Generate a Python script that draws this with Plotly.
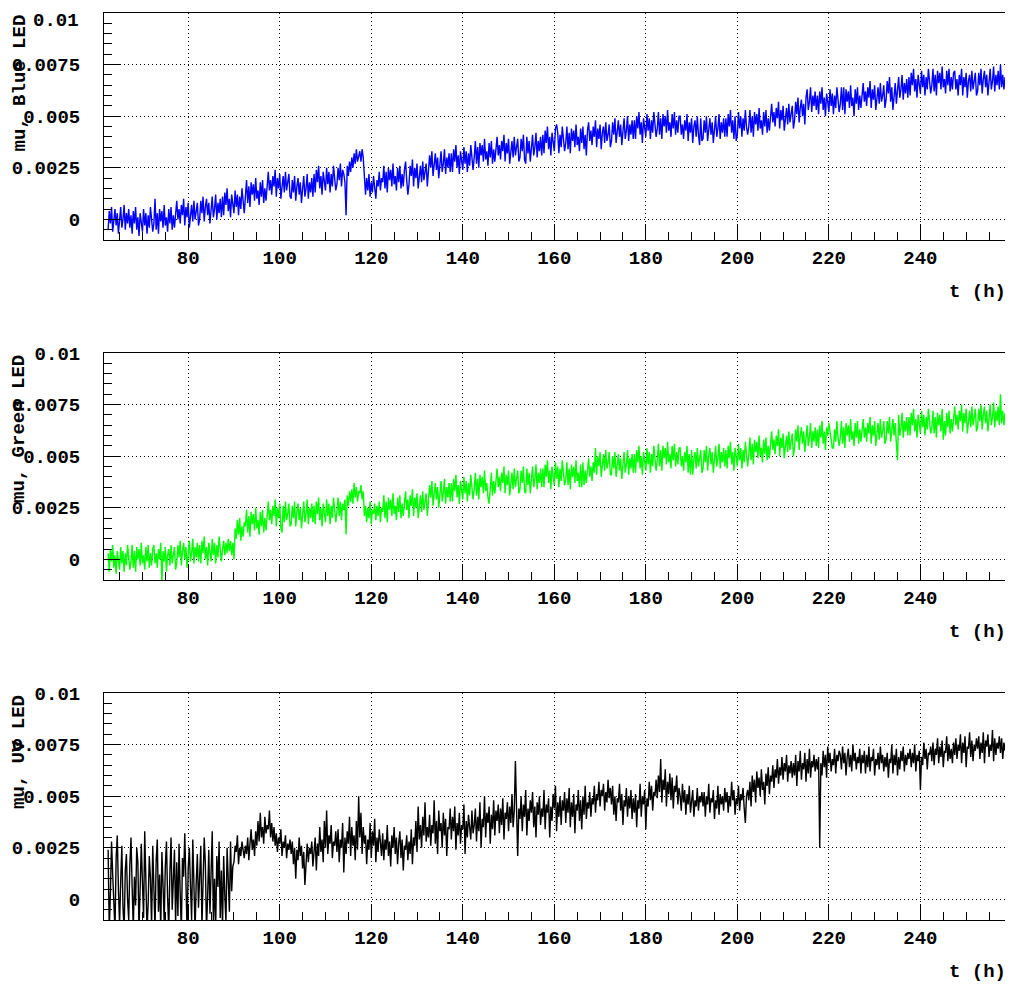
import numpy as np
import plotly.graph_objects as go

# readings every quarter hour starting at t = 62.5 h
t_start = 62.5
t_step = 0.25

# mu, in units of 1e-4 (20 readings = 5 h per row)
mu_blue = [
    -5, 4, -2, 6, -6, 1, 5, -3, 3, -7, 2, 6, -4, 0, 7, -5, 3, -2, 5, -4,
    2, -7, 4, -2, 6, -5, 1, -8, 3, -1, -6, 5, -3, 3, -7, 2, -4, 6, -2, -6,
    -2, 10, -5, 3, -7, 5, -1, 4, -4, 7, -3, 1, -6, 5, -2, 6, -5, 2, -4, 4,
    9, 0, 5, -2, 7, 2, 10, -3, 6, 1, 8, -4, 4, 7, -1, 9, 0, 3, 8, -3,
    0, 9, 3, 11, -1, 6, 10, 2, 8, -2, 7, 11, 1, 5, 12, 0, 8, 3, 10, 1,
    11, 2, 13, 7, 15, 4, 10, 1, 12, 8, 3, 14, 6, 12, 2, 11, 5, 15, 7, 3,
    11, 19, 8, 16, 6, 18, 12, 17, 9, 20, 10, 14, 7, 18, 11, 19, 8, 15, 9, 17,
    23, 14, 19, 12, 21, 16, 24, 11, 20, 15, 22, 10, 18, 21, 13, 23, 14, 17, 22, 11,
    10, 19, 13, 21, 9, 16, 20, 12, 18, 8, 17, 21, 11, 15, 22, 10, 18, 13, 20, 11,
    22, 13, 24, 18, 26, 15, 21, 12, 23, 19, 14, 25, 17, 23, 13, 22, 16, 26, 18, 14,
    17, 25, 19, 27, 16, 24, 22, 18, 2, 26, 21, 28, 23, 30, 25, 32, 27, 34, 28, 31,
    33, 28, 34, 30, 19, 12, 20, 14, 22, 11, 18, 13, 21, 15, 10, 19, 16, 23, 14, 20,
    18, 26, 15, 23, 13, 25, 19, 24, 16, 27, 17, 21, 14, 25, 18, 26, 15, 22, 16, 24,
    28, 19, 12, 17, 26, 21, 29, 16, 25, 20, 27, 15, 23, 26, 18, 28, 19, 22, 27, 16,
    22, 31, 25, 33, 21, 28, 32, 24, 30, 20, 29, 33, 23, 27, 34, 22, 30, 25, 32, 23,
    32, 23, 34, 28, 36, 25, 31, 22, 33, 29, 24, 35, 27, 33, 23, 32, 26, 36, 28, 24,
    30, 38, 27, 35, 25, 37, 31, 36, 28, 39, 29, 33, 26, 37, 30, 38, 27, 34, 28, 36,
    40, 31, 36, 29, 38, 33, 41, 28, 37, 32, 39, 27, 35, 38, 30, 40, 31, 34, 39, 28,
    30, 39, 33, 41, 29, 27, 40, 32, 38, 28, 37, 41, 31, 35, 42, 30, 38, 33, 40, 31,
    41, 32, 43, 37, 45, 34, 40, 31, 42, 38, 33, 44, 46, 42, 32, 41, 35, 45, 37, 33,
    37, 45, 34, 42, 32, 44, 38, 43, 35, 46, 36, 40, 33, 44, 37, 45, 34, 41, 31, 43,
    47, 38, 43, 36, 45, 40, 48, 35, 44, 39, 46, 34, 42, 45, 37, 47, 38, 41, 46, 35,
    38, 47, 41, 49, 37, 44, 48, 40, 46, 36, 45, 49, 39, 43, 50, 38, 46, 41, 48, 39,
    48, 39, 50, 44, 52, 41, 47, 37, 49, 45, 40, 51, 43, 49, 39, 48, 42, 52, 44, 40,
    44, 52, 41, 49, 39, 51, 45, 50, 42, 53, 43, 47, 40, 51, 44, 52, 41, 48, 42, 50,
    50, 41, 46, 39, 48, 43, 51, 38, 47, 42, 49, 37, 45, 48, 40, 50, 41, 36, 49, 38,
    39, 48, 42, 50, 38, 45, 49, 41, 47, 37, 46, 50, 40, 44, 51, 39, 47, 42, 49, 40,
    49, 40, 51, 45, 53, 42, 48, 39, 50, 38, 41, 52, 44, 50, 40, 49, 43, 53, 45, 41,
    45, 53, 42, 50, 40, 52, 46, 51, 43, 54, 44, 48, 41, 52, 45, 53, 42, 49, 43, 51,
    56, 47, 52, 45, 54, 49, 57, 44, 53, 48, 55, 43, 51, 54, 46, 56, 47, 50, 55, 44,
    48, 57, 51, 59, 47, 54, 58, 50, 56, 46, 59, 63, 53, 57, 64, 52, 60, 55, 62, 53,
    60, 51, 62, 56, 64, 53, 59, 50, 61, 57, 52, 63, 55, 61, 51, 60, 54, 64, 56, 52,
    56, 64, 53, 64, 51, 63, 57, 62, 54, 65, 55, 59, 50, 63, 56, 64, 53, 60, 54, 62,
    66, 57, 62, 55, 64, 59, 67, 54, 63, 58, 65, 53, 61, 64, 56, 66, 57, 60, 65, 54,
    58, 67, 61, 69, 57, 64, 53, 60, 66, 56, 65, 69, 59, 63, 70, 58, 66, 61, 68, 59,
    69, 60, 71, 65, 73, 62, 68, 59, 70, 66, 61, 72, 64, 70, 60, 69, 63, 73, 65, 61,
    65, 73, 62, 70, 60, 72, 66, 71, 63, 74, 64, 68, 61, 72, 65, 73, 62, 69, 63, 71,
    72, 63, 68, 60, 70, 65, 73, 60, 69, 64, 71, 59, 67, 70, 62, 72, 63, 66, 71, 60,
    62, 71, 65, 73, 61, 68, 72, 64, 70, 60, 69, 73, 63, 67, 74, 62, 70, 65, 72, 63,
    75, 64, 70, 63, 69, 66,
]

mu_green = [
    3, -6, 5, -1, 7, -4, 2, -7, 4, 0, -5, 6, -2, 4, -6, 3, -3, 7, -1, -5,
    -1, 7, -4, 4, -6, 6, 0, 5, -3, 8, -2, 2, -5, 6, -1, 7, -4, 3, -3, 5,
    7, -2, 3, -4, 5, 0, 8, -11, 4, -1, 6, -6, 2, 5, -3, 7, -2, 1, 6, -5,
    -2, 7, 1, 9, -3, 4, 8, 0, 6, -4, 5, 9, -1, 3, 10, -2, 6, 1, 8, -1,
    7, -2, 9, 3, 11, 0, 6, -3, 8, 4, -1, 10, 2, 8, -2, 7, 1, 11, 3, -1,
    5, 9, 2, 8, 3, 10, 4, 9, 2, 8, 0, 15, 10, 19, 12, 20, 9, 16, 11, 18,
    16, 24, 13, 21, 11, 23, 17, 22, 14, 25, 15, 19, 12, 23, 16, 24, 13, 20, 14, 22,
    28, 19, 24, 17, 26, 21, 29, 16, 25, 20, 27, 15, 13, 26, 18, 28, 19, 22, 27, 16,
    17, 26, 20, 28, 16, 23, 27, 19, 25, 15, 24, 28, 18, 22, 29, 17, 25, 20, 27, 18,
    26, 17, 28, 22, 30, 19, 25, 16, 27, 23, 18, 29, 21, 27, 17, 26, 20, 30, 22, 18,
    23, 30, 21, 28, 19, 27, 24, 29, 12, 31, 26, 33, 28, 34, 27, 37, 30, 35, 28, 33,
    32, 36, 29, 33, 21, 26, 18, 25, 20, 28, 17, 24, 22, 27, 19, 26, 21, 28, 18, 25,
    23, 31, 20, 28, 18, 30, 24, 29, 21, 32, 22, 26, 19, 30, 23, 31, 20, 27, 21, 29,
    33, 24, 29, 20, 31, 26, 34, 21, 30, 25, 32, 20, 28, 31, 23, 33, 24, 27, 32, 21,
    27, 36, 30, 38, 26, 33, 37, 29, 35, 25, 34, 38, 28, 32, 39, 27, 35, 30, 37, 28,
    37, 28, 39, 33, 41, 30, 36, 27, 38, 34, 29, 40, 32, 38, 28, 37, 31, 41, 33, 29,
    34, 42, 31, 39, 29, 41, 35, 40, 32, 43, 33, 37, 30, 27, 34, 42, 31, 38, 32, 40,
    44, 35, 40, 33, 42, 37, 45, 32, 41, 36, 43, 31, 39, 42, 34, 44, 35, 38, 43, 32,
    34, 43, 37, 45, 33, 32, 44, 36, 42, 32, 41, 45, 35, 39, 46, 34, 42, 37, 44, 35,
    44, 35, 46, 40, 48, 37, 43, 34, 45, 41, 36, 47, 39, 45, 35, 44, 38, 48, 40, 36,
    39, 47, 36, 44, 34, 46, 40, 45, 37, 48, 38, 42, 35, 46, 35, 47, 36, 43, 37, 45,
    49, 40, 45, 38, 47, 42, 54, 41, 50, 45, 52, 40, 48, 51, 43, 53, 44, 47, 52, 41,
    41, 50, 44, 52, 40, 47, 51, 43, 49, 39, 48, 52, 42, 46, 53, 41, 49, 44, 51, 42,
    51, 42, 53, 47, 55, 44, 50, 41, 52, 48, 43, 54, 46, 52, 42, 51, 45, 55, 47, 43,
    48, 56, 45, 53, 43, 55, 49, 54, 46, 57, 47, 51, 44, 55, 48, 56, 45, 52, 46, 54,
    54, 45, 50, 43, 52, 47, 55, 42, 51, 41, 53, 41, 49, 52, 44, 54, 45, 48, 53, 42,
    44, 53, 47, 55, 43, 50, 54, 46, 52, 42, 51, 55, 45, 49, 56, 44, 52, 47, 54, 45,
    53, 44, 55, 49, 57, 46, 52, 43, 54, 50, 45, 56, 48, 54, 44, 53, 47, 57, 49, 45,
    51, 59, 48, 56, 46, 58, 52, 57, 49, 60, 50, 54, 47, 58, 51, 59, 48, 55, 49, 57,
    62, 53, 58, 51, 60, 55, 63, 50, 59, 54, 61, 49, 57, 60, 52, 62, 53, 56, 61, 50,
    54, 63, 57, 65, 53, 60, 64, 56, 62, 52, 61, 65, 55, 59, 66, 54, 62, 57, 64, 55,
    63, 54, 65, 59, 67, 56, 62, 53, 64, 60, 66, 61, 58, 54, 54, 63, 57, 67, 59, 55,
    59, 67, 56, 64, 54, 66, 60, 65, 57, 68, 58, 62, 55, 66, 59, 67, 56, 63, 57, 65,
    68, 59, 64, 57, 66, 61, 69, 56, 65, 60, 67, 55, 63, 66, 58, 68, 59, 62, 67, 56,
    58, 67, 61, 69, 57, 64, 68, 60, 66, 56, 48, 70, 60, 64, 71, 59, 67, 62, 69, 60,
    69, 60, 71, 65, 73, 62, 68, 59, 70, 66, 61, 72, 64, 70, 60, 69, 63, 73, 65, 61,
    64, 72, 61, 69, 59, 71, 65, 70, 62, 73, 58, 67, 60, 71, 64, 72, 61, 68, 62, 70,
    74, 65, 70, 63, 72, 67, 75, 62, 71, 66, 73, 61, 69, 72, 64, 74, 65, 68, 73, 62,
    64, 73, 67, 75, 63, 70, 74, 66, 72, 62, 71, 75, 65, 69, 76, 64, 72, 67, 74, 65,
    80, 66, 72, 65, 71, 68,
]

mu_uv = [
    24, -15, 3, 28, 12, -8, -15, 20, 31, 5, -12, 9, 26, -4, -15, 14, 22, 0, -10, 17,
    30, 6, -14, 11, -3, 25, 18, -15, 2, 27, 8, -9, 33, 15, -15, -2, 21, 10, -13, 26,
    4, -15, 19, 29, -6, 12, -15, 23, 7, -11, 16, 28, 1, -15, 13, 30, -5, 9, 24, -12,
    18, -8, 27, 3, -15, 20, 11, 32, -2, -15, 15, 25, 6, -10, 29, 13, -15, 8, 22, -4,
    12, 26, -13, 5, 30, 17, -15, 2, 24, -7, 19, 33, -11, 10, -15, 21, 6, 28, -9, 14,
    -14, 21, 2, -11, 25, 8, -6, 28, 4, 16, 18, 26, 23, 31, 17, 25, 21, 28, 24, 20,
    26, 22, 30, 19, 27, 34, 24, 29, 21, 33, 26, 38, 28, 42, 30, 35, 27, 40, 32, 36,
    34, 43, 30, 37, 28, 35, 26, 32, 23, 30, 27, 34, 21, 28, 25, 31, 20, 27, 24, 29,
    22, 28, 17, 25, 10, 24, 19, 30, 21, 26, 15, 23, 7, 20, 27, 18, 25, 22, 28, 16,
    24, 30, 14, 27, 21, 35, 23, 29, 18, 38, 25, 43, 22, 31, 27, 36, 20, 28, 26, 33,
    23, 34, 18, 29, 25, 37, 13, 30, 22, 33, 27, 40, 21, 35, 26, 31, 19, 38, 24, 50,
    30, 42, 22, 35, 27, 31, 17, 29, 24, 37, 20, 33, 26, 39, 18, 30, 23, 34, 28, 21,
    32, 19, 29, 24, 36, 21, 28, 16, 31, 25, 35, 22, 30, 17, 27, 33, 20, 29, 14, 26,
    24, 31, 19, 28, 22, 34, 17, 30, 26, 38, 23, 45, 29, 36, 25, 40, 31, 47, 28, 35,
    30, 41, 26, 36, 32, 48, 27, 38, 22, 43, 33, 37, 25, 42, 31, 39, 21, 35, 34, 44,
    29, 40, 33, 45, 24, 37, 31, 42, 27, 36, 34, 46, 22, 38, 30, 41, 35, 29, 43, 32,
    36, 44, 28, 40, 33, 47, 25, 39, 35, 50, 30, 42, 37, 45, 27, 41, 34, 48, 31, 43,
    38, 46, 32, 44, 36, 49, 29, 42, 39, 47, 33, 45, 37, 51, 35, 43, 67, 40, 21, 44,
    39, 50, 33, 46, 40, 53, 31, 44, 38, 48, 42, 52, 35, 45, 30, 47, 41, 50, 36, 44,
    40, 53, 34, 46, 42, 49, 30, 45, 38, 51, 44, 55, 33, 47, 40, 50, 36, 48, 43, 52,
    37, 49, 42, 54, 35, 47, 40, 51, 32, 46, 43, 53, 38, 48, 34, 50, 41, 55, 39, 47,
    44, 52, 40, 49, 46, 55, 42, 51, 48, 57, 45, 53, 50, 56, 43, 52, 47, 58, 49, 54,
    46, 55, 41, 50, 38, 49, 47, 56, 43, 51, 36, 48, 45, 54, 40, 50, 44, 53, 39, 49,
    42, 51, 35, 48, 44, 56, 40, 50, 46, 53, 34, 49, 45, 57, 48, 55, 43, 52, 50, 58,
    49, 60, 52, 68, 47, 58, 53, 63, 45, 57, 51, 61, 48, 59, 44, 55, 52, 60, 46, 54,
    50, 43, 56, 47, 53, 41, 51, 46, 55, 42, 49, 53, 40, 48, 45, 54, 43, 50, 47, 52,
    45, 52, 40, 50, 46, 56, 42, 49, 47, 53, 39, 48, 44, 55, 41, 51, 46, 50, 43, 54,
    47, 52, 42, 50, 45, 57, 48, 53, 41, 49, 46, 55, 43, 51, 48, 54, 44, 37, 50, 53,
    48, 57, 45, 60, 52, 58, 47, 62, 54, 59, 50, 63, 53, 57, 46, 61, 55, 64, 51, 60,
    57, 65, 54, 63, 59, 68, 56, 64, 60, 69, 58, 66, 62, 70, 57, 65, 61, 67, 59, 66,
    60, 70, 55, 67, 62, 72, 58, 66, 63, 71, 57, 68, 61, 73, 59, 67, 64, 70, 62, 68,
    63, 69, 25, 66, 60, 72, 64, 70, 59, 74, 66, 71, 62, 68, 65, 73, 61, 70, 67, 72,
    70, 63, 74, 66, 71, 60, 69, 73, 64, 70, 62, 75, 67, 71, 63, 69, 66, 73, 61, 70,
    66, 72, 61, 70, 64, 74, 62, 69, 67, 73, 60, 68, 65, 71, 63, 74, 66, 70, 62, 69,
    64, 71, 59, 68, 66, 75, 61, 70, 65, 73, 60, 69, 63, 72, 67, 74, 62, 70, 65, 71,
    68, 73, 64, 71, 66, 75, 62, 70, 67, 72, 53, 69, 65, 76, 68, 73, 63, 71, 70, 74,
    67, 76, 65, 73, 70, 78, 66, 74, 69, 77, 64, 72, 71, 79, 67, 75, 68, 73, 66, 76,
    70, 78, 68, 75, 72, 80, 66, 76, 71, 79, 64, 74, 73, 81, 69, 77, 67, 75, 72, 78,
    73, 79, 68, 76, 71, 81, 66, 77, 74, 80, 69, 75, 72, 82, 67, 78, 70, 76, 73, 79,
    71, 78, 68, 76, 72, 77,
]

y_tickvals = [0, 0.0025, 0.005, 0.0075, 0.01]
y_ticktext = ["0", "0.0025", "0.005", "0.0075", "0.01"]

panels = [
    ("mu, Blue LED", mu_blue, "#0000ff"),
    ("mu, Green LED", mu_green, "#00ff00"),
    ("mu, UV LED", mu_uv, "#000000"),
]

# the page body keeps its default 8px margin: shift everything by it
PAGE_W, PAGE_H, BODY = 1013, 985, 8
W, H = PAGE_W - BODY, PAGE_H - BODY
frame_left, frame_right = 104 - BODY, 1011 - BODY
frame_rows = [(13, 240), (353, 580), (693, 920)]  # top, bottom on the page

font = dict(family="Liberation Mono, Courier New, monospace", size=19,
            color="black", weight="bold")

fig = go.Figure()
layout = dict(width=W, height=H, margin=dict(l=0, r=0, t=0, b=0),
              paper_bgcolor="white", plot_bgcolor="white",
              showlegend=False, font=font, annotations=[])

for i, (title, vals, col) in enumerate(panels):
    n = str(i + 1) if i else ""
    t = t_start + t_step * np.arange(len(vals))
    mu = np.array(vals) * 1e-4
    fig.add_trace(go.Scatter(x=t, y=mu, mode="lines",
                             line=dict(color=col, width=1.4),
                             xaxis="x" + n, yaxis="y" + n))

    top, bot = frame_rows[i]
    top, bot = top - BODY, bot - BODY
    # the top panel's "0.01" would stick out of the page, it is drawn below
    ticktext = list(y_ticktext)
    if i == 0:
        ticktext[-1] = ""
    layout["xaxis" + n] = dict(
        domain=[frame_left / W, frame_right / W], anchor="y" + n,
        range=[61.6, 259.8], tickmode="linear", tick0=0, dtick=20,
        ticks="inside", ticklen=16, tickcolor="black",
        minor=dict(dtick=5, tick0=0, ticks="inside", ticklen=8,
                   tickcolor="black", showgrid=False),
        showline=True, linecolor="black", linewidth=1, mirror=True,
        showgrid=True, gridcolor="black", gridwidth=1, griddash="1px,3px",
        zeroline=False, ticklabelstandoff=0, automargin=False,
    )
    layout["yaxis" + n] = dict(
        domain=[(H - bot) / H, (H - top) / H], anchor="x" + n,
        range=[-0.001, 0.01], tickmode="array",
        tickvals=y_tickvals, ticktext=ticktext,
        ticks="inside", ticklen=16, tickcolor="black",
        minor=dict(dtick=0.0005, tick0=0, ticks="inside", ticklen=8,
                   tickcolor="black", showgrid=False),
        showline=True, linecolor="black", linewidth=1, mirror=True,
        showgrid=True, gridcolor="black", gridwidth=1, griddash="1px,3px",
        zeroline=False, ticklabelstandoff=19, automargin=False,
        ticklabeloverflow="allow",
    )
    layout["annotations"].append(dict(
        text=title, textangle=-90, showarrow=False,
        xref="paper", yref="paper", x=(19 - BODY) / W, y=(H - top) / H,
        xanchor="center", yanchor="top", font=font,
    ))
    layout["annotations"].append(dict(
        text="t (h)", showarrow=False,
        xref="paper", yref="paper", x=(1008 - BODY) / W, y=(H - bot - 52) / H,
        xanchor="right", yanchor="middle", font=font,
    ))

layout["annotations"].append(dict(
    text=y_ticktext[-1], showarrow=False,
    xref="paper", yref="paper", x=(81 - BODY) / W, y=1.0,
    xanchor="right", yanchor="top", font=font,
))

fig.update_layout(**layout)
fig.write_html("out.html")
